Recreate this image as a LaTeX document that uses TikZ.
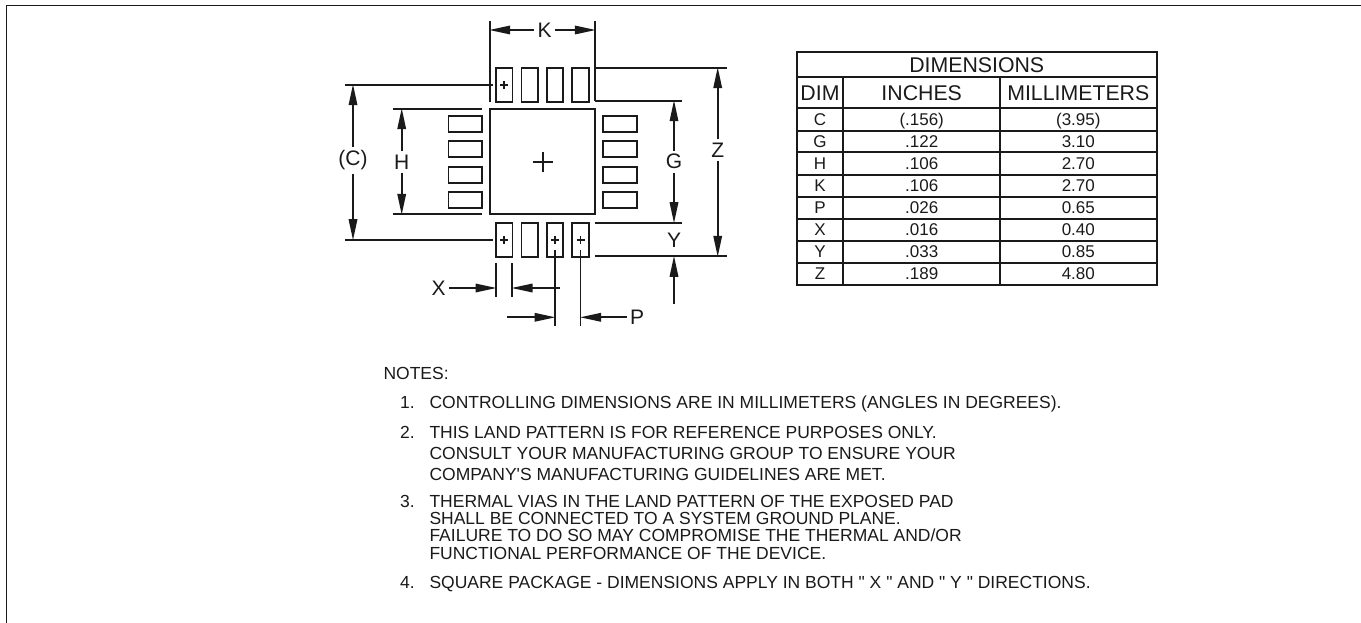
\documentclass[tikz,border=0pt]{standalone}
\usepackage{fontspec}
\setmainfont{Liberation Sans}
\newfontfamily\plainsans{Liberation Sans}
\usetikzlibrary{arrows.meta}
\definecolor{ink}{HTML}{1A1A1A}
\tikzset{
  ln/.style={draw=ink,line width=1.7pt},
  thinln/.style={draw=ink,line width=1.7pt},
  dimarrow/.style={ln,-{Triangle[length=21pt,width=8.5pt]},shorten >=-0.5pt},
  padv/.style={ln,rectangle,inner sep=0pt,minimum width=16.5pt,minimum height=34pt},
  padh/.style={ln,rectangle,inner sep=0pt,minimum width=33.5pt,minimum height=16pt},
  epad/.style={ln,rectangle,inner sep=0pt,minimum width=105.6pt,minimum height=105.6pt},
  dimlabel/.style={text=ink,font=\fontsize{21}{21}\selectfont,inner sep=0pt,outer sep=3.5pt},
  thead/.style={text=ink,font=\fontsize{21.3}{22}\selectfont,anchor=base,inner sep=0pt},
  tcell/.style={text=ink,font=\fontsize{17}{18}\selectfont,anchor=base,inner sep=0pt},
  note/.style={text=ink,font=\plainsans\fontsize{17.5}{18}\selectfont,anchor=base west,inner sep=0pt},
}
\newcommand{\smallplus}[1]{\draw[draw=ink,line width=1.7pt] ([xshift=-4pt]#1) -- ([xshift=4pt]#1) ([yshift=-4pt]#1) -- ([yshift=4pt]#1);}
\begin{document}
\begin{tikzpicture}[x=1pt,y=-1pt]
\useasboundingbox (0,0) rectangle (1361,623);
% sheet border
\coordinate (bTL) at (6.5,5.5);
\coordinate (bBL) at (6.5,623);
\coordinate (bTR) at (1361,5.5);
\draw[ln] (bBL) -- (bTL) -- (bTR);

% exposed pad
\node[epad] (ep) at (542.5,161.5) {};
\coordinate (epc) at (542.7,162);
\draw[draw=ink,line width=1.7pt] ([xshift=-10pt]epc) -- ([xshift=10pt]epc) ([yshift=-10pt]epc) -- ([yshift=10pt]epc);

% top pads
\node[padv] (t1) at (504.25,84.7) {};
\node[padv] (t2) at (529.75,84.7) {};
\node[padv] (t3) at (555.0,84.7) {};
\node[padv] (t4) at (580.5,84.7) {};
% bottom pads
\node[padv] (b1) at (504.25,239.7) {};
\node[padv] (b2) at (529.75,239.7) {};
\node[padv] (b3) at (555.0,239.7) {};
\node[padv] (b4) at (580.5,239.7) {};
% left pads
\node[padh] (l1) at (465.2,123.7) {};
\node[padh] (l2) at (465.2,149.2) {};
\node[padh] (l3) at (465.2,174.7) {};
\node[padh] (l4) at (465.2,200.3) {};
% right pads
\node[padh] (r1) at (619.9,123.7) {};
\node[padh] (r2) at (619.9,149.2) {};
\node[padh] (r3) at (619.9,174.7) {};
\node[padh] (r4) at (619.9,200.3) {};

\smallplus{t1.center}
\smallplus{b1.center}
\smallplus{b3.center}
\smallplus{b4.center}

% K
\coordinate (kLt) at (489.7,21);
\coordinate (kLb) at (489.7,101.7);
\coordinate (kRt) at (595.3,21);
\coordinate (kRb) at (595.3,100.7);
\draw[ln] (kLt) -- (kLb);
\draw[ln] (kRt) -- (kRb);
\node[dimlabel] (K) at (544.5,30) {K};
\coordinate (kLa) at (489.7,30);
\coordinate (kRa) at (595.3,30);
\draw[dimarrow] (K) -- (kLa);
\draw[dimarrow] (K) -- (kRa);

% C
\coordinate (cTl) at (345,84.7);
\coordinate (cTr) at (493,84.7);
\coordinate (cBl) at (345,239.7);
\coordinate (cBr) at (493,239.7);
\draw[ln] (cTl) -- (cTr);
\draw[ln] (cBl) -- (cBr);
\node[dimlabel] (C) at (353,160.5) {(C)};
\coordinate (cTa) at (353,84.7);
\coordinate (cBa) at (353,239.7);
\draw[dimarrow] (C) -- (cTa);
\draw[dimarrow] (C) -- (cBa);

% H
\coordinate (hTl) at (393,108.7);
\coordinate (hTr) at (482,108.7);
\coordinate (hBl) at (393,214.3);
\coordinate (hBr) at (482,214.3);
\draw[ln] (hTl) -- (hTr);
\draw[ln] (hBl) -- (hBr);
\node[dimlabel] (H) at (401.7,162) {H};
\coordinate (hTa) at (401.7,108.7);
\coordinate (hBa) at (401.7,214.3);
\draw[dimarrow] (H) -- (hTa);
\draw[dimarrow] (H) -- (hBa);

% G
\coordinate (gTl) at (595.3,100.7);
\coordinate (gTr) at (682.3,100.7);
\coordinate (gBl) at (595.3,222.7);
\coordinate (gBr) at (682.3,222.7);
\draw[ln] (gTl) -- (gTr);
\draw[ln] (gBl) -- (gBr);
\node[dimlabel] (G) at (674,161.7) {G};
\coordinate (gTa) at (674,100.7);
\coordinate (gBa) at (674,222.7);
\draw[dimarrow] (G) -- (gTa);
\draw[dimarrow] (G) -- (gBa);

% Z
\coordinate (zTl) at (595.3,67.7);
\coordinate (zTr) at (726.7,67.7);
\coordinate (zBl) at (595.3,256.3);
\coordinate (zBr) at (726.7,256.3);
\draw[ln] (zTl) -- (zTr);
\draw[ln] (zBl) -- (zBr);
\node[dimlabel] (Z) at (717.7,150) {Z};
\coordinate (zTa) at (717.7,67.7);
\coordinate (zBa) at (717.7,256.3);
\draw[dimarrow] (Z) -- (zTa);
\draw[dimarrow] (Z) -- (zBa);

% Y
\node[dimlabel] (Y) at (674,240) {Y};
\coordinate (yS) at (674,304);
\coordinate (yA) at (674,256.3);
\draw[dimarrow] (yS) -- (yA);

% X
\coordinate (xLt) at (496,263.3);
\coordinate (xLb) at (496,296.7);
\coordinate (xRt) at (512,263.3);
\coordinate (xRb) at (512,296.7);
\draw[thinln] (xLt) -- (xLb);
\draw[thinln] (xRt) -- (xRb);
\node[dimlabel] (X) at (438.7,288) {X};
\coordinate (xLa) at (496,288);
\coordinate (xRa) at (512,288);
\coordinate (xRs) at (560,288);
\draw[dimarrow] (X) -- (xLa);
\draw[dimarrow] (xRs) -- (xRa);

% P
\coordinate (pLt) at (555,250);
\coordinate (pLb) at (555,326);
\coordinate (pRt) at (580.5,250);
\coordinate (pRb) at (580.5,326);
\draw[thinln] (pLt) -- (pLb);
\draw[thinln] (pRt) -- (pRb);
\node[dimlabel] (P) at (637,317.3) {P};
\coordinate (pLs) at (507.3,317.3);
\coordinate (pLa) at (555,317.3);
\coordinate (pRa) at (580.5,317.3);
\draw[dimarrow] (pLs) -- (pLa);
\draw[dimarrow] (P) -- (pRa);

% table
\coordinate (tTL) at (796.7,51.7);
\coordinate (tBR) at (1156.7,285);
\draw[ln] (tTL) rectangle (tBR);
\foreach \yy in {77.3,108.3,131,152.3,175,196.7,219,241,262.7}
  \draw[ln] (796.7,\yy) -- (1156.7,\yy);
\foreach \xx in {843.3,1000}
  \draw[ln] (\xx,77.3) -- (\xx,285);
\node[thead] (tt) at (976.7,72.7) {DIMENSIONS};
\node[thead] (th1) at (820,100.7) {DIM};
\node[thead] (th2) at (921.7,100.7) {INCHES};
\node[thead] (th3) at (1078.3,100.7) {MILLIMETERS};
\foreach \lab/\inch/\mmv/\yy in {C/{(.156)}/{(3.95)}/126,G/.122/3.10/147.7,H/.106/2.70/170,K/.106/2.70/191.7,P/.026/0.65/213.3,X/.016/0.40/235.7,Y/.033/0.85/257.7,Z/.189/4.80/279.3}{
  \node[tcell] (rd\lab) at (820,\yy) {\lab};
  \node[tcell] (ri\lab) at (921.7,\yy) {\inch};
  \node[tcell] (rm\lab) at (1078.3,\yy) {\mmv};
}

% notes
\node[note] (n0) at (383.3,379) {NOTES:};
\node[note] (n1) at (400,408.3) {1.};
\node[note] (n1a) at (429.3,408.3) {CONTROLLING DIMENSIONS ARE IN MILLIMETERS (ANGLES IN DEGREES).};
\node[note] (n2) at (400,438.3) {2.};
\node[note] (n2a) at (429.3,438.3) {THIS LAND PATTERN IS FOR REFERENCE PURPOSES ONLY.};
\node[note] (n2b) at (429.3,459.3) {CONSULT YOUR MANUFACTURING GROUP TO ENSURE YOUR};
\node[note] (n2c) at (429.3,480.7) {COMPANY'S MANUFACTURING GUIDELINES ARE MET.};
\node[note] (n3) at (400,507.3) {3.};
\node[note] (n3a) at (429.3,507.3) {THERMAL VIAS IN THE LAND PATTERN OF THE EXPOSED PAD};
\node[note] (n3b) at (429.3,524.3) {SHALL BE CONNECTED TO A SYSTEM GROUND PLANE.};
\node[note] (n3c) at (429.3,541.7) {FAILURE TO DO SO MAY COMPROMISE THE THERMAL AND/OR};
\node[note] (n3d) at (429.3,559) {FUNCTIONAL PERFORMANCE OF THE DEVICE.};
\node[note] (n4) at (400,588.3) {4.};
\node[note] (n4a) at (429.3,588.3) {SQUARE PACKAGE - DIMENSIONS APPLY IN BOTH " X " AND " Y " DIRECTIONS.};
\end{tikzpicture}
\end{document}
